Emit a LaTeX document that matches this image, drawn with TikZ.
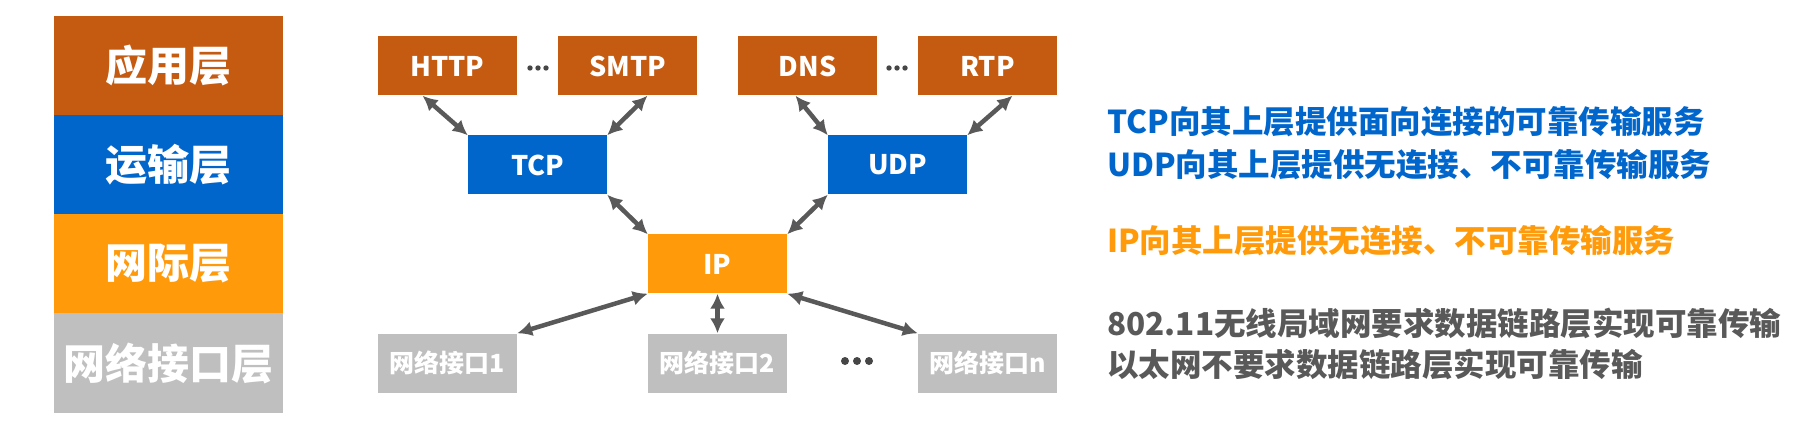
\documentclass[tikz,border=0pt]{standalone}
\usepackage{fontspec}
\setmainfont{Noto Sans CJK SC}
\usetikzlibrary{arrows.meta}
\definecolor{appcol}{RGB}{197,90,17}
\definecolor{tracol}{RGB}{0,102,204}
\definecolor{netcol}{RGB}{255,155,10}
\definecolor{ifcol}{RGB}{191,191,191}
\definecolor{arrcol}{RGB}{89,89,89}
\definecolor{dotcol}{RGB}{70,70,70}
\begin{document}
\begin{tikzpicture}[x=1pt,y=-1pt,>={Latex[length=15pt,width=15pt]},
  layer/.style={fill=#1,text=white,font=\fontsize{42}{42}\selectfont\bfseries,
    minimum width=229pt,minimum height=99pt,inner sep=0pt},
  proto/.style={fill=#1,text=white,font=\fontsize{27}{27}\selectfont\bfseries,
    minimum width=139pt,minimum height=59pt,inner sep=0pt},
  iface/.style={proto=ifcol,font=\fontsize{25}{25}\selectfont\bfseries},
  link/.style={<->,line width=4.5pt,draw=arrcol},
  note/.style={anchor=west,inner sep=0pt,text=#1,font=\fontsize{31.5}{31.5}\selectfont\bfseries}]
\useasboundingbox (0,0) rectangle (1815,430);

% layer stack
\node[layer=appcol] (app) at (168.5,66) {应用层};
\node[layer=tracol] (tra) at (168.5,165) {运输层};
\node[layer=netcol] (net) at (168.5,264) {网际层};
\node[layer=ifcol] (hostnet) at (168.5,363) {网络接口层};

% protocols
\foreach \n/\t/\x in {http/HTTP/447.5,smtp/SMTP/627.5,dns/DNS/807.5,rtp/RTP/987.5}
{
   \node[proto=appcol] (\n) at (\x,66) {\t};
}
\node[proto=tracol] (tcp) at (537.5,165) {TCP};
\node[proto=tracol] (udp) at (897.5,165) {UDP};
\node[proto=netcol] (ip) at (717.5,264) {IP};
\node[iface] (if1) at (447.5,363) {网络接口1};
\node[iface] (if2) at (717.5,363) {网络接口2};
\node[iface] (ifn) at (987.5,363) {网络接口n};

\foreach \x in {530,538,546,889,897,905}
{
   \fill[dotcol] (\x,68) circle (2.7);
}
\foreach \x in {845,857,869}
{
   \fill[dotcol] (\x,361) circle (4);
}

\draw[link] ([xshift=-25pt]http.south)--(tcp.north west);
\draw[link] ([xshift=20pt]smtp.south)--(tcp.north east);
\draw[link] ([xshift=-12pt]dns.south)--(udp.north west);
\draw[link] ([xshift=25pt]rtp.south)--(udp.north east);
\draw[link] (tcp.south east)--(ip.north west);
\draw[link] (udp.south west)--(ip.north east);
\draw[link] (ip.south west)--(if1.north east);
\draw[link] (ip.south)--(if2.north);
\draw[link] (ip.south east)--(ifn.north west);

% notes
\node[note=tracol] (tcpnote) at (1107,122) {TCP向其上层提供面向连接的可靠传输服务};
\node[note=tracol] (udpnote) at (1107,165) {UDP向其上层提供无连接、不可靠传输服务};
\node[note=netcol] (ipnote) at (1107,241) {IP向其上层提供无连接、不可靠传输服务};
\node[note=arrcol] (wlannote) at (1107,323) {802.11无线局域网要求数据链路层实现可靠传输};
\node[note=arrcol] (ethnote) at (1107,364) {以太网不要求数据链路层实现可靠传输};
\end{tikzpicture}
\end{document}
